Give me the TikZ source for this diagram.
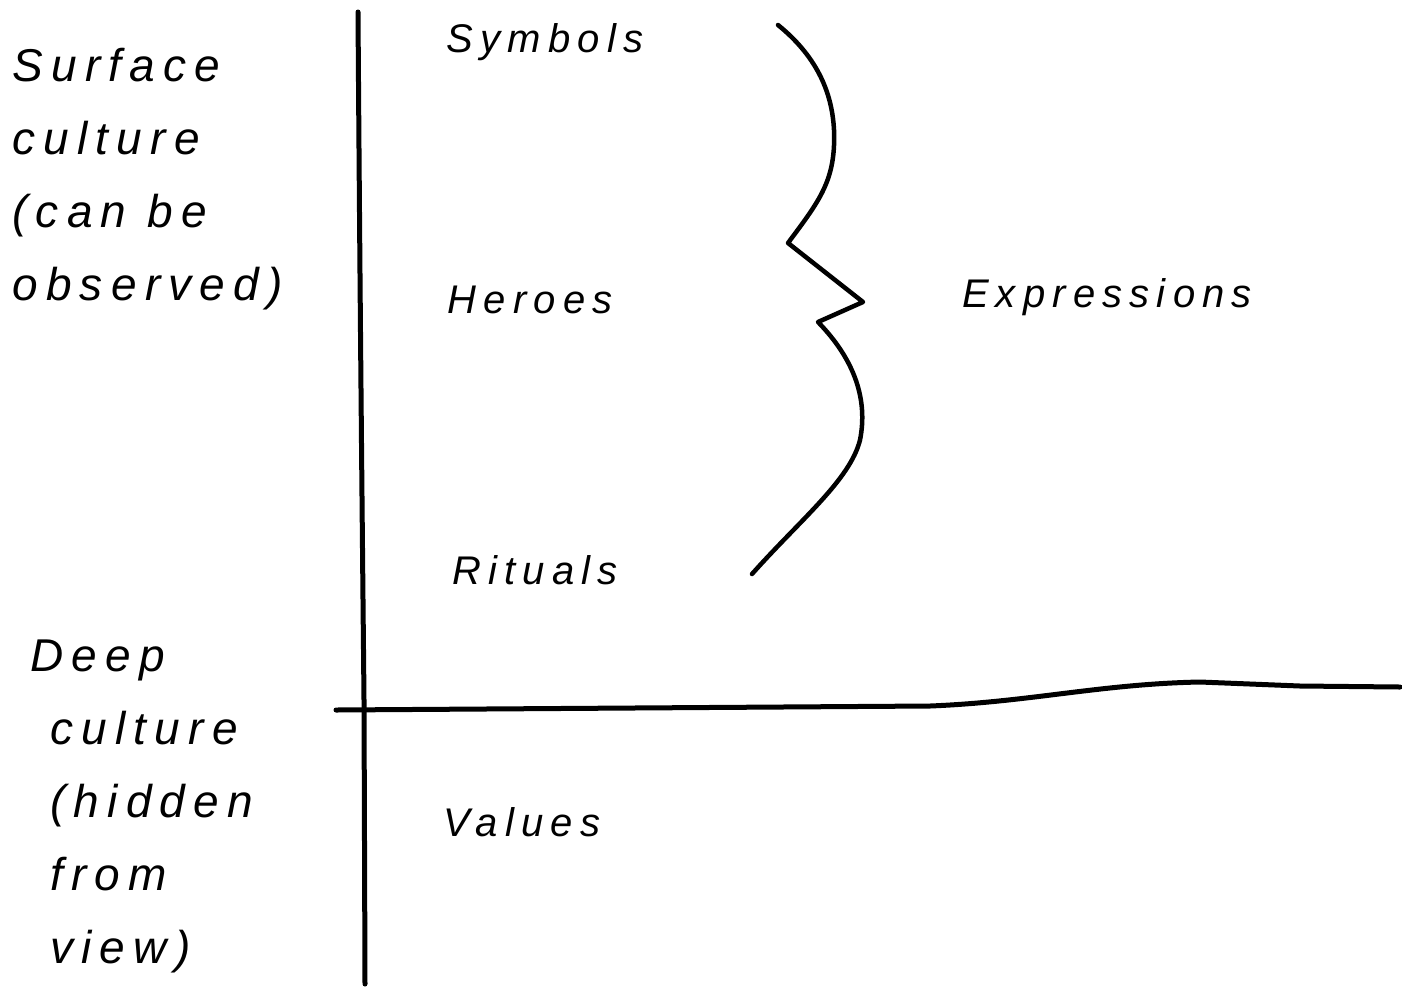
\documentclass[tikz,border=0pt]{standalone}
\usepackage{fontspec}
\newfontfamily\hand[LetterSpace=18]{Liberation Sans}
\begin{document}
\begin{tikzpicture}[x=1pt,y=-1pt,
  lbl/.style={font=\hand\itshape\fontsize{40}{73}\selectfont, inner sep=0pt},
  side/.style={font=\hand\itshape\fontsize{46}{73}\selectfont, inner sep=0pt, align=left, anchor=north west},
  ink/.style={line width=5pt, line cap=round, line join=round}]
\useasboundingbox (0,0) rectangle (1402,986);
% axes
\draw[ink] (358,12) .. controls (360,300) and (362,500) .. (364,700) -- (365,984);
\draw[ink] (336,710) -- (930,706) .. controls (1030,702) and (1100,684) .. (1200,682) -- (1300,686) -- (1400,687);
% brace
\draw[line width=4.5pt, line cap=round, line join=round]
  (778,25) .. controls (815,55) and (832,90) .. (834,130)
  .. controls (836,180) and (820,200) .. (788,243)
  -- (863,302) -- (818,322)
  .. controls (855,360) and (868,400) .. (860,440)
  .. controls (850,480) and (800,520) .. (752,574);
% labels
\node[lbl] (sym) at (545,42) {Symbols};
\node[lbl] (her) at (530,300) {Heroes};
\node[lbl] (rit) at (535,570) {Rituals};
\node[lbl] (exp) at (1107,297) {Expressions};
\node[lbl] (val) at (522,822) {Values};
\node[side] (surf) at (12,48) {Surface\\culture\\(can be\\observed)};
\node[side] (deep) at (50,640) {\hspace*{-20pt}Deep\\culture\\(hidden\\from\\view)};
\end{tikzpicture}
\end{document}
